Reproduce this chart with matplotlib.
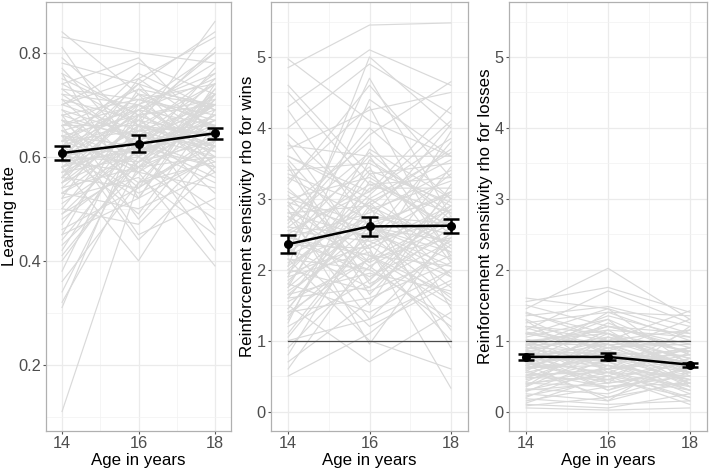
import numpy as np
import matplotlib
matplotlib.use("Agg")
import matplotlib.pyplot as plt
from matplotlib.ticker import MultipleLocator

plt.rcParams['font.family'] = ['Liberation Sans', 'DejaVu Sans']

ages = [14, 16, 18]

# individual trajectories (values at 14, 16, 18)
learning_rate = [
    (0.11, 0.55, 0.62), (0.84, 0.72, 0.66), (0.83, 0.80, 0.78), (0.81, 0.60, 0.70),
    (0.79, 0.66, 0.86), (0.78, 0.74, 0.58), (0.76, 0.52, 0.72), (0.75, 0.68, 0.80),
    (0.74, 0.79, 0.64), (0.73, 0.62, 0.55), (0.72, 0.70, 0.76), (0.71, 0.58, 0.68),
    (0.70, 0.75, 0.83), (0.69, 0.64, 0.60), (0.68, 0.48, 0.66), (0.68, 0.71, 0.74),
    (0.67, 0.60, 0.50), (0.66, 0.73, 0.70), (0.66, 0.66, 0.62), (0.65, 0.55, 0.71),
    (0.65, 0.69, 0.78), (0.64, 0.62, 0.67), (0.64, 0.44, 0.58), (0.63, 0.70, 0.64),
    (0.63, 0.58, 0.73), (0.62, 0.67, 0.59), (0.62, 0.76, 0.69), (0.61, 0.61, 0.65),
    (0.61, 0.52, 0.74), (0.60, 0.68, 0.62), (0.60, 0.63, 0.56), (0.59, 0.72, 0.70),
    (0.59, 0.57, 0.66), (0.58, 0.65, 0.61), (0.58, 0.40, 0.63), (0.57, 0.69, 0.75),
    (0.57, 0.60, 0.68), (0.56, 0.66, 0.53), (0.56, 0.54, 0.64), (0.55, 0.71, 0.67),
    (0.55, 0.62, 0.72), (0.54, 0.58, 0.60), (0.54, 0.67, 0.81), (0.53, 0.50, 0.57),
    (0.53, 0.64, 0.69), (0.52, 0.73, 0.63), (0.52, 0.56, 0.45), (0.51, 0.61, 0.66),
    (0.50, 0.68, 0.71), (0.50, 0.47, 0.62), (0.49, 0.63, 0.58), (0.48, 0.59, 0.70),
    (0.47, 0.66, 0.64), (0.46, 0.54, 0.73), (0.45, 0.70, 0.61), (0.44, 0.62, 0.68),
    (0.43, 0.57, 0.54), (0.42, 0.65, 0.66), (0.40, 0.60, 0.75), (0.38, 0.68, 0.62),
    (0.36, 0.55, 0.59), (0.34, 0.63, 0.70), (0.32, 0.58, 0.48), (0.31, 0.66, 0.64),
    (0.69, 0.57, 0.39), (0.72, 0.62, 0.42), (0.66, 0.45, 0.52), (0.70, 0.78, 0.72),
    (0.63, 0.74, 0.84), (0.60, 0.72, 0.57), (0.74, 0.66, 0.61), (0.77, 0.61, 0.67),
    (0.58, 0.70, 0.80), (0.61, 0.49, 0.69), (0.67, 0.64, 0.74), (0.64, 0.68, 0.46),
    (0.56, 0.75, 0.65), (0.62, 0.53, 0.60), (0.59, 0.61, 0.77), (0.65, 0.59, 0.63),
    (0.68, 0.63, 0.72), (0.66, 0.70, 0.60), (0.63, 0.65, 0.70), (0.60, 0.59, 0.67),
    (0.57, 0.64, 0.62), (0.55, 0.66, 0.74), (0.53, 0.61, 0.70), (0.71, 0.67, 0.64),
    (0.64, 0.57, 0.72), (0.58, 0.62, 0.58), (0.62, 0.69, 0.66), (0.49, 0.58, 0.64),
    (0.73, 0.71, 0.68), (0.67, 0.54, 0.63), (0.60, 0.74, 0.69), (0.45, 0.52, 0.60),
    (0.70, 0.65, 0.76), (0.56, 0.69, 0.57), (0.41, 0.59, 0.71), (0.76, 0.68, 0.70),
]

rho_wins = [
    (4.97, 4.10, 3.60), (4.85, 5.45, 5.48), (4.50, 3.20, 2.80), (4.30, 5.10, 4.60),
    (4.25, 2.60, 3.10), (4.00, 4.90, 4.20), (3.80, 2.20, 1.50), (3.70, 4.25, 4.50),
    (3.60, 3.00, 3.65), (3.50, 1.80, 2.40), (3.40, 3.50, 2.90), (3.30, 2.70, 4.05),
    (3.20, 4.60, 3.30), (3.10, 2.40, 1.90), (3.00, 3.30, 2.60), (2.95, 1.50, 3.20),
    (2.90, 3.80, 2.20), (2.80, 2.90, 3.70), (2.75, 2.10, 2.70), (2.70, 4.00, 3.00),
    (2.60, 2.50, 1.60), (2.55, 3.10, 4.30), (2.50, 1.90, 2.50), (2.45, 2.80, 3.40),
    (2.40, 3.60, 2.10), (2.35, 2.30, 2.85), (2.30, 1.20, 1.80), (2.25, 2.95, 3.55),
    (2.20, 3.40, 2.95), (2.15, 2.00, 1.30), (2.10, 2.60, 2.40), (2.05, 5.00, 4.00),
    (2.00, 1.70, 2.20), (1.95, 3.15, 3.15), (1.90, 2.25, 1.00), (1.85, 2.75, 2.65),
    (1.80, 1.40, 2.00), (1.75, 3.70, 3.00), (1.70, 2.45, 3.80), (1.65, 1.95, 1.70),
    (1.60, 3.00, 2.30), (1.55, 2.15, 2.75), (1.50, 0.70, 1.40), (1.45, 2.85, 3.25),
    (1.40, 1.60, 2.10), (1.35, 2.35, 1.55), (1.30, 3.25, 2.60), (1.20, 1.85, 2.90),
    (1.10, 2.55, 1.95), (1.00, 1.30, 2.45), (0.90, 2.05, 1.20), (0.80, 2.65, 3.05),
    (0.70, 1.55, 2.35), (0.60, 2.20, 1.65), (0.50, 1.10, 2.00), (3.55, 2.30, 0.33),
    (2.85, 0.95, 2.55), (3.25, 4.30, 2.15), (2.65, 3.90, 4.65), (1.90, 4.40, 3.60),
    (2.15, 1.00, 0.60), (3.75, 3.60, 3.60), (2.40, 2.00, 3.45), (1.75, 2.70, 1.15),
    (2.95, 2.55, 2.05), (1.25, 3.55, 2.80), (3.45, 1.65, 2.85), (2.55, 2.40, 2.70),
    (2.00, 3.05, 4.10), (1.60, 1.75, 2.60), (4.60, 3.35, 2.50), (3.15, 2.10, 3.95),
    (2.25, 4.70, 2.75), (1.45, 2.90, 0.90), (2.75, 1.30, 1.85), (3.90, 2.85, 2.25),
    (1.05, 2.45, 3.35), (2.60, 3.45, 1.45), (3.05, 1.85, 3.10), (2.35, 2.60, 2.25),
    (2.80, 2.45, 3.10), (2.20, 2.75, 2.50), (1.95, 2.35, 2.90), (3.35, 2.90, 2.35),
    (2.50, 3.20, 3.30), (1.65, 2.60, 2.15), (2.90, 2.05, 2.65), (2.05, 2.95, 1.90),
    (3.60, 3.10, 3.85), (1.40, 2.15, 2.45), (2.70, 3.65, 2.70), (2.30, 1.75, 3.00),
    (3.00, 2.65, 1.75), (1.80, 3.35, 3.50), (2.45, 2.20, 2.05),
]

rho_losses = [
    (1.60, 1.45, 1.10), (1.55, 1.75, 1.40), (1.50, 1.20, 0.90), (1.45, 2.02, 1.30),
    (1.40, 1.00, 1.42), (1.35, 1.48, 1.20), (1.30, 0.80, 0.70), (1.25, 1.40, 1.35),
    (1.20, 1.10, 0.60), (1.15, 1.70, 1.25), (1.10, 0.90, 1.00), (1.05, 1.30, 0.80),
    (1.00, 0.60, 1.15), (0.98, 1.15, 0.50), (0.95, 0.95, 0.95), (0.92, 1.35, 1.05),
    (0.90, 0.70, 0.40), (0.88, 1.05, 0.85), (0.85, 0.30, 0.75), (0.82, 1.20, 1.10),
    (0.80, 0.85, 0.55), (0.78, 0.50, 0.90), (0.75, 1.00, 0.65), (0.72, 0.75, 0.30),
    (0.70, 1.25, 0.80), (0.68, 0.40, 0.60), (0.65, 0.90, 1.00), (0.62, 0.65, 0.45),
    (0.60, 1.10, 0.70), (0.58, 0.20, 0.55), (0.55, 0.80, 0.85), (0.52, 0.55, 0.35),
    (0.50, 1.05, 0.65), (0.48, 0.45, 0.75), (0.45, 0.70, 0.25), (0.42, 0.95, 0.60),
    (0.40, 0.35, 0.50), (0.38, 0.60, 0.80), (0.35, 0.85, 0.40), (0.32, 0.25, 0.65),
    (0.30, 0.55, 0.20), (0.28, 0.75, 0.55), (0.25, 0.15, 0.45), (0.22, 0.45, 0.70),
    (0.20, 0.65, 0.30), (0.18, 0.10, 0.15), (0.15, 0.35, 0.50), (0.12, 0.50, 0.10),
    (0.10, 0.05, 0.25), (0.08, 0.20, 0.40), (0.05, 0.02, 0.05), (1.28, 0.55, 0.90),
    (1.08, 1.45, 0.65), (0.95, 0.40, 1.20), (0.87, 1.30, 0.35), (1.18, 0.85, 1.30),
    (0.73, 1.40, 1.00), (0.66, 0.15, 0.85), (1.02, 0.75, 0.45), (0.57, 1.15, 1.05),
    (0.83, 0.60, 0.15), (1.38, 1.10, 0.55), (0.47, 0.90, 0.95), (0.77, 0.30, 0.60),
    (0.93, 1.00, 0.75), (0.63, 0.70, 0.90), (1.12, 0.95, 0.40), (0.36, 1.05, 0.75),
    (0.69, 0.45, 0.20), (0.86, 0.80, 0.65),
    (0.90, 0.85, 0.70), (0.75, 0.95, 0.55), (0.60, 0.75, 0.80), (0.85, 0.65, 0.45),
    (1.00, 1.10, 0.85), (0.50, 0.60, 0.70), (0.70, 0.55, 0.50), (1.10, 0.90, 0.60),
    (0.40, 0.50, 0.30), (0.95, 1.20, 0.95), (0.30, 0.40, 0.55), (1.20, 1.00, 1.15),
    (0.65, 0.85, 0.35), (0.80, 0.70, 0.90), (0.55, 0.35, 0.40),
]

# group means and standard errors
lr_mean = [0.607, 0.625, 0.645]
lr_se = [0.014, 0.016, 0.011]
wins_mean = [2.36, 2.61, 2.62]
wins_se = [0.13, 0.13, 0.10]
losses_mean = [0.77, 0.77, 0.66]
losses_se = [0.04, 0.05, 0.03]

ylabels = ["Learning rate", "Reinforcement sensitivity rho for wins",
           "Reinforcement sensitivity rho for losses"]
xlabel = "Age in years"

W, H = 709, 470
fig = plt.figure(figsize=(W / 100, H / 100), dpi=100)

panels = [
    dict(left=46, right=231, data=learning_rate, mean=lr_mean, se=lr_se,
         ylim=(0.0725, 0.8975), yticks=[0.2, 0.4, 0.6, 0.8], ref=None, fmt="{:.1f}", minor=0.1),
    dict(left=271, right=468, data=rho_wins, mean=wins_mean, se=wins_se,
         ylim=(-0.275, 5.775), yticks=[0, 1, 2, 3, 4, 5], ref=1, fmt="{:d}", minor=0.5),
    dict(left=509, right=707, data=rho_losses, mean=losses_mean, se=losses_se,
         ylim=(-0.275, 5.775), yticks=[0, 1, 2, 3, 4, 5], ref=1, fmt="{:d}", minor=0.5),
]
top, bottom = 2, 431

for i, p in enumerate(panels):
    ax = fig.add_axes([p['left'] / W, 1 - bottom / H, (p['right'] - p['left']) / W, (bottom - top) / H])
    ax.set_xlim(13.58, 18.42)
    ax.set_ylim(*p['ylim'])
    ax.set_xticks(ages)
    ax.set_xticklabels([str(a) for a in ages])
    ax.xaxis.set_minor_locator(MultipleLocator(1))
    ax.set_yticks(p['yticks'])
    ax.set_yticklabels([p['fmt'].format(t) for t in p['yticks']])
    ax.yaxis.set_minor_locator(MultipleLocator(p['minor']))
    ax.grid(which='major', color='#EBEBEB', lw=0.9, zorder=0)
    ax.grid(which='minor', color='#F2F2F2', lw=0.5, zorder=0)
    ax.set_axisbelow(True)
    ax.tick_params(which='major', length=2.2, width=0.8, color='#555555',
                   labelsize=11.8, labelcolor='#4D4D4D', pad=1.5)
    ax.tick_params(which='minor', length=0)
    for s in ax.spines.values():
        s.set_color('#B0B0B0')
        s.set_linewidth(0.9)

    arr = np.array(p['data'])
    for row in arr:
        ax.plot(ages, row, color='#D9D9D9', lw=0.85, zorder=1)

    if p['ref'] is not None:
        ax.plot([ages[0], ages[-1]], [p['ref'], p['ref']], color='#4A4A4A', lw=0.9, zorder=2)

    m = np.array(p['mean'])
    se = np.array(p['se'])
    ax.plot(ages, m, color='black', lw=1.8, zorder=3)
    ax.vlines(ages, m - se, m + se, color='black', lw=1.8, zorder=3)
    ax.hlines(m - se, np.array(ages) - 0.2, np.array(ages) + 0.2, color='black', lw=1.8, zorder=3)
    ax.hlines(m + se, np.array(ages) - 0.2, np.array(ages) + 0.2, color='black', lw=1.8, zorder=3)
    ax.scatter(ages, m, s=30, color='black', zorder=4)

    ax.set_xlabel(xlabel, fontsize=12.2, color='black', labelpad=1)
    ax.set_ylabel(ylabels[i], fontsize=12.2, color='black', labelpad=1)

fig.savefig("out.png", dpi=100)
